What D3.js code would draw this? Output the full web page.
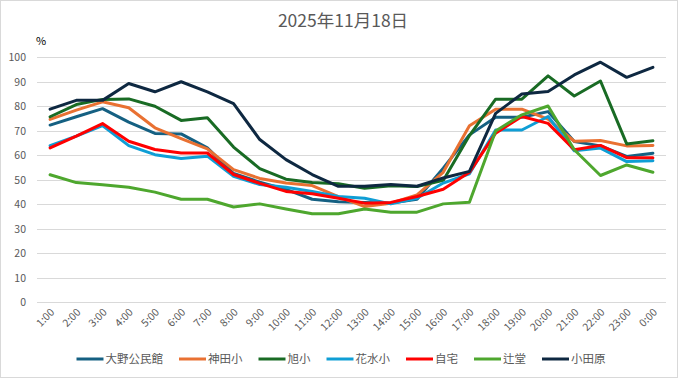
<!DOCTYPE html>
<html>
<head>
<meta charset="utf-8">
<script src="https://cdn.jsdelivr.net/npm/d3@7"></script>
<style>
    body { margin: 0; background: #fff; }
    svg { display: block; font-family: "Noto Sans CJK JP", "Noto Sans", sans-serif; }
    .grid line { stroke: #d9d9d9; stroke-width: 1; }
    .tick-label { fill: #595959; font-size: 10.5px; }
    .legend-label { fill: #595959; font-size: 11.5px; }
    .series { fill: none; stroke-width: 3; stroke-linejoin: round; stroke-linecap: round; }
</style>
</head>
<body>
<svg id="chart" width="681" height="379"></svg>
<script>

const hours = ["1:00", "2:00", "3:00", "4:00", "5:00", "6:00", "7:00", "8:00", "9:00", "10:00", "11:00", "12:00",
    "13:00", "14:00", "15:00", "16:00", "17:00", "18:00", "19:00", "20:00", "21:00", "22:00", "23:00", "0:00"];

const yTicks = [0, 10, 20, 30, 40, 50, 60, 70, 80, 90, 100];

const seriesNames = ["大野公民館", "神田小", "旭小", "花水小", "自宅", "辻堂", "小田原"];
const seriesColors = ["#156082", "#e97132", "#196b24", "#0f9ed5", "#ff0000", "#4ea72e", "#0e2841"];

const oono = [72.3, 75.7, 79, 73.5, 68.9, 68.7, 63, 52.5, 49, 46, 42, 41, 40.7, 40.4, 42, 54.7, 68.3, 75.5, 75.5, 77.8, 65.6, 63.8, 59.5, 60.8];
const kanda = [74.6, 78.4, 81.8, 79.4, 71.2, 66.8, 62.6, 54.1, 50.5, 48.6, 47.6, 43.1, 39, 40.4, 43.8, 53, 72, 78.8, 78.8, 74.7, 65.7, 66, 63.8, 64];
const asahi = [75.7, 80.7, 82.8, 83, 80, 74.2, 75.3, 63.3, 54.5, 50.2, 48.8, 48.3, 46.5, 47.5, 47.2, 49.7, 68, 82.9, 82.9, 92.4, 84.2, 90.3, 64.6, 65.9];
const hanamizu = [63.9, 67.8, 72.1, 63.9, 60.2, 58.6, 59.6, 51.4, 48, 46.9, 45.2, 43.1, 42.4, 40.1, 42.4, 48.6, 52.4, 70.3, 70.3, 75.8, 61.8, 62.9, 57.4, 57.7];
const jitaku = [63, 67.8, 72.9, 65.7, 62.3, 60.9, 60.9, 52.1, 48.5, 45.2, 44.2, 42.4, 40.4, 40.7, 43.1, 46.1, 53, 69, 75.8, 73, 62.2, 64, 59, 59];
const tsujido = [52, 48.8, 47.9, 46.9, 44.9, 42, 42, 38.8, 40.1, 38, 36.1, 36.1, 38, 36.7, 36.7, 40.1, 40.8, 69.9, 76.5, 80.1, 62.2, 51.7, 56, 53];
const odawara = [78.8, 82.4, 82.4, 89.3, 85.9, 90, 85.9, 81.1, 66.4, 58.2, 52.1, 47.3, 47.3, 48, 47.3, 50.7, 53.4, 77.1, 85, 86, 92.8, 98, 91.8, 95.9];

const seriesValues = [oono, kanda, asahi, hanamizu, jitaku, tsujido, odawara];

class LineChart {

    constructor(svg) {

        this.svg = svg;
        this.width = +svg.attr("width");
        this.height = +svg.attr("height");
        this.plot = { left: 37, right: 666, top: 57.3, bottom: 302 };

        this.x = d3.scalePoint()
            .domain(hours)
            .range([this.plot.left, this.plot.right])
            .padding(0.5);
        this.y = d3.scaleLinear()
            .domain([0, 100])
            .range([this.plot.bottom, this.plot.top]);

        this.drawFrame();
        this.drawAxes();
        this.drawLines();
        this.drawLegend();

    }

    drawFrame() {

        this.svg
            .append("rect")
                .attr("x", 0.5)
                .attr("y", 0.5)
                .attr("width", 677)
                .attr("height", 377)
                .attr("fill", "#fff")
                .attr("stroke", "#d9d9d9");

        this.svg
            .append("text")
                .attr("x", 343)
                .attr("y", 27)
                .attr("text-anchor", "middle")
                .attr("fill", "#595959")
                .style("font-size", "17.5px")
                .text("2025年11月18日");

        this.svg
            .append("text")
                .attr("x", 36)
                .attr("y", 45)
                .attr("fill", "#000")
                .style("font-size", "11px")
                .text("%");
    }

    drawAxes() {

        let grid = this.svg.append("g").classed("grid", true);

        grid.selectAll("line")
            .data(yTicks)
            .enter()
            .append("line")
                .attr("x1", this.plot.left)
                .attr("x2", this.plot.right)
                .attr("y1", d => Math.round(this.y(d)) + 0.5)
                .attr("y2", d => Math.round(this.y(d)) + 0.5);

        this.svg
            .append("g")
                .selectAll("text")
                .data(yTicks)
                .enter()
                .append("text")
                    .classed("tick-label", true)
                    .attr("x", 26)
                    .attr("y", d => this.y(d) + 4)
                    .attr("text-anchor", "end")
                    .text(d => d);

        // rotated hour labels, anchored at their upper right end
        this.svg
            .append("g")
                .selectAll("text")
                .data(hours)
                .enter()
                .append("text")
                    .classed("tick-label", true)
                    .attr("text-anchor", "end")
                    .attr("transform", d => `translate(${this.x(d) + 5},${this.plot.bottom + 11}) rotate(-45)`)
                    .text(d => d);
    }

    drawLines() {

        let line = d3.line()
            .x((d, i) => this.x(hours[i]))
            .y(d => this.y(d));

        this.svg
            .append("g")
                .selectAll("path.series")
                .data(seriesValues)
                .enter()
                .append("path")
                    .classed("series", true)
                    .attr("stroke", (d, i) => seriesColors[i])
                    .attr("d", line);
    }

    drawLegend() {

        let legend = this.svg.append("g"),
            lineWidth = 27,
            gap = 2,
            spacing = 16,
            y = 359;

        let items = legend.selectAll("g")
            .data(seriesNames)
            .enter()
            .append("g");

        items.append("line")
            .attr("x1", 0)
            .attr("x2", lineWidth)
            .attr("y1", 0)
            .attr("y2", 0)
            .attr("stroke", (d, i) => seriesColors[i])
            .attr("stroke-width", 3);

        items.append("text")
            .classed("legend-label", true)
            .attr("x", lineWidth + gap)
            .attr("y", 4)
            .text(d => d);

        // lay the items out one after another, centred on the chart
        let widths = [];
        items.each(function() {
            widths.push(lineWidth + gap + d3.select(this).select("text").node().getComputedTextLength());
        });
        let total = d3.sum(widths) + spacing * (widths.length - 1);
        let x = (678 - total) / 2 + 2;
        items.attr("transform", (d, i) => {
            let pos = x;
            x += widths[i] + spacing;
            return `translate(${pos},${y})`;
        });
    }

}

new LineChart(d3.select("#chart"));

</script>
</body>
</html>
